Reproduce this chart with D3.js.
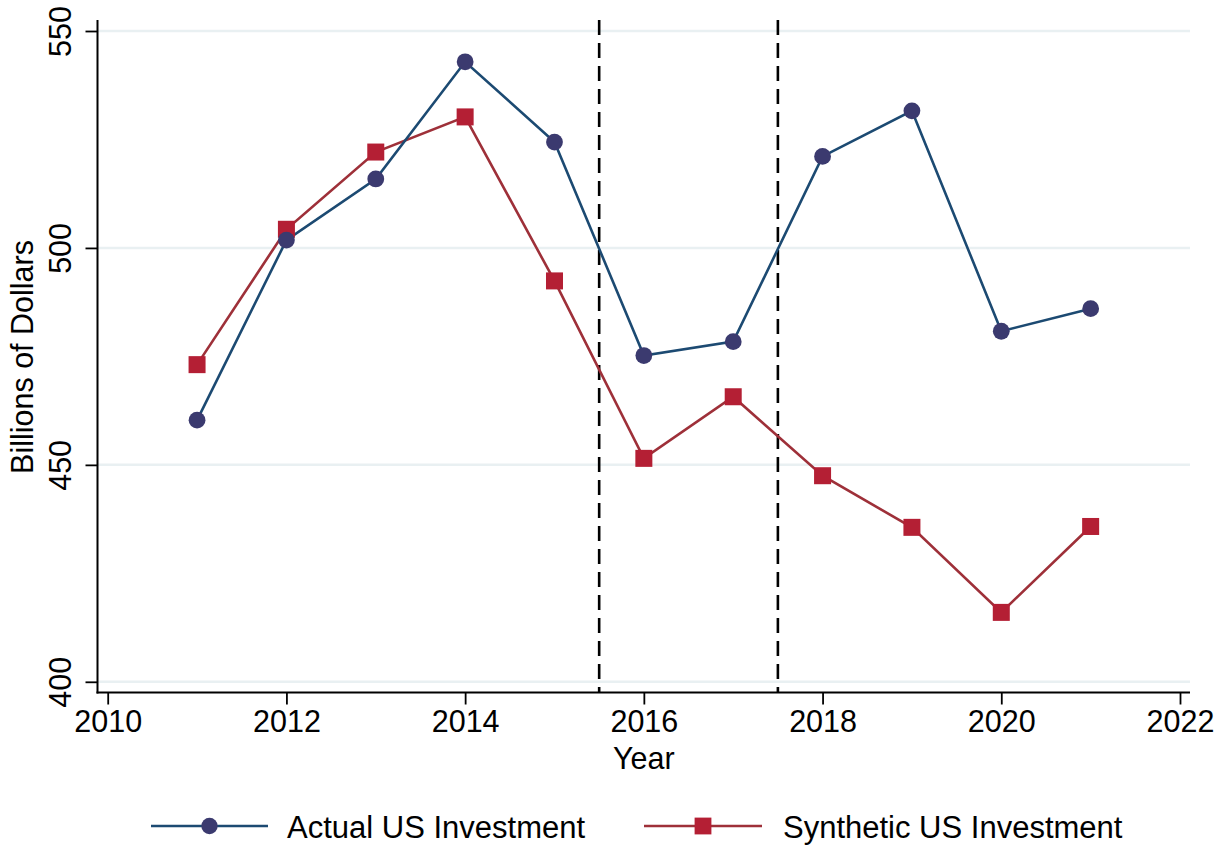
<!DOCTYPE html>
<html>
<head>
<meta charset="utf-8">
<script src="https://cdn.jsdelivr.net/npm/d3@7"></script>
<style>
  html, body { margin: 0; padding: 0; background: #fff; }
  svg { display: block; }
  text { font-family: "Liberation Sans", Arial, sans-serif; fill: #000; }
</style>
</head>
<body>
<svg id="chart" width="1227" height="845"></svg>
<script>
const years = [2011, 2012, 2013, 2014, 2015, 2016, 2017, 2018, 2019, 2020, 2021];
const actual = [460.3, 501.8, 515.9, 542.9, 524.4, 475.2, 478.4, 521.1, 531.6, 480.8, 486.0];
const synthetic = [473.1, 504.3, 522.1, 530.2, 492.4, 451.5, 465.7, 447.5, 435.6, 416.0, 435.8];
const xTicks = [2010, 2012, 2014, 2016, 2018, 2020, 2022];
const yTicks = [400, 450, 500, 550];
const treatmentLines = [2015.5, 2017.5];
const seriesNames = ["Actual US Investment", "Synthetic US Investment"];

(function () {
const svg = d3.select("#chart");
const pLeft = 97.5, pRight = 1190, pTop = 20, pBottom = 692.5;
const x = d3.scaleLinear().domain([2010, 2022]).range([107.7, 1180]);
const y = d3.scaleLinear().domain([400, 550]).range([681.8, 31]);

const blueLine = "#1c4a72", blueDot = "#3b3a6f";
const redLine = "#9e3039", redSq = "#b41f34";

// gridlines
svg.append("g").selectAll("line").data(yTicks).join("line")
  .attr("x1", pLeft).attr("x2", pRight)
  .attr("y1", d => y(d)).attr("y2", d => y(d))
  .attr("stroke", "#e9f0f2").attr("stroke-width", 2.5);

// x axis
const xAxis = svg.append("g").attr("transform", `translate(0,${pBottom})`)
  .call(d3.axisBottom(x).tickValues(xTicks).tickFormat(d3.format("d")).tickSize(12).tickPadding(6));
xAxis.select(".domain").remove();
xAxis.selectAll(".tick line").attr("stroke", "#000").attr("stroke-width", 1.8);
xAxis.selectAll(".tick text").attr("font-size", 30.5).attr("font-family", "Liberation Sans, Arial, sans-serif");
svg.append("line").attr("x1", pLeft - 1).attr("x2", pRight).attr("y1", pBottom).attr("y2", pBottom)
  .attr("stroke", "#000").attr("stroke-width", 2);

// y axis
const yAxis = svg.append("g").attr("transform", `translate(${pLeft},0)`)
  .call(d3.axisLeft(y).tickValues(yTicks).tickFormat(d3.format("d")).tickSize(12));
yAxis.select(".domain").remove();
yAxis.selectAll(".tick line").attr("stroke", "#000").attr("stroke-width", 1.8);
yAxis.selectAll(".tick text")
  .attr("font-size", 30.5).attr("font-family", "Liberation Sans, Arial, sans-serif")
  .attr("transform", "rotate(-90)")
  .attr("x", 0).attr("y", -27).attr("dy", 0)
  .attr("text-anchor", "middle");
svg.append("line").attr("x1", pLeft).attr("x2", pLeft).attr("y1", pTop).attr("y2", pBottom + 1)
  .attr("stroke", "#000").attr("stroke-width", 2);

// axis titles
svg.append("text").attr("x", (pLeft + pRight) / 2).attr("y", 769)
  .attr("text-anchor", "middle").attr("font-size", 30.5).text("Year");
svg.append("text").attr("transform", `translate(33,357) rotate(-90)`)
  .attr("text-anchor", "middle").attr("font-size", 30.5).text("Billions of Dollars");

// treatment lines
svg.append("g").selectAll("line").data(treatmentLines).join("line")
  .attr("x1", d => x(d)).attr("x2", d => x(d))
  .attr("y1", pTop).attr("y2", pBottom)
  .attr("stroke", "#000").attr("stroke-width", 2.6)
  .attr("stroke-dasharray", "15,8");

const line = d3.line().x(d => x(d[0])).y(d => y(d[1]));
const actualPts = years.map((yr, i) => [yr, actual[i]]);
const synthPts = years.map((yr, i) => [yr, synthetic[i]]);

svg.append("path").datum(synthPts).attr("d", line)
  .attr("fill", "none").attr("stroke", redLine).attr("stroke-width", 2.6);
svg.append("path").datum(actualPts).attr("d", line)
  .attr("fill", "none").attr("stroke", blueLine).attr("stroke-width", 2.6);

const sq = 17;
svg.append("g").selectAll("rect").data(synthPts).join("rect")
  .attr("x", d => x(d[0]) - sq / 2).attr("y", d => y(d[1]) - sq / 2)
  .attr("width", sq).attr("height", sq).attr("fill", redSq);
svg.append("g").selectAll("circle").data(actualPts).join("circle")
  .attr("cx", d => x(d[0])).attr("cy", d => y(d[1])).attr("r", 8.4)
  .attr("fill", blueDot);

// legend
const ly = 826;
const lg = svg.append("g");
lg.append("line").attr("x1", 151).attr("x2", 268).attr("y1", ly).attr("y2", ly)
  .attr("stroke", blueLine).attr("stroke-width", 2.6);
lg.append("circle").attr("cx", 209.5).attr("cy", ly).attr("r", 8.2).attr("fill", blueDot);
lg.append("text").attr("x", 287).attr("y", ly + 11.5).attr("font-size", 31).text(seriesNames[0]);
lg.append("line").attr("x1", 644).attr("x2", 762).attr("y1", ly).attr("y2", ly)
  .attr("stroke", redLine).attr("stroke-width", 2.6);
lg.append("rect").attr("x", 703 - 8.4).attr("y", ly - 8.4).attr("width", 16.8).attr("height", 16.8).attr("fill", redSq);
lg.append("text").attr("x", 783).attr("y", ly + 11.5).attr("font-size", 31).text(seriesNames[1]);
})();
</script>
</body>
</html>
